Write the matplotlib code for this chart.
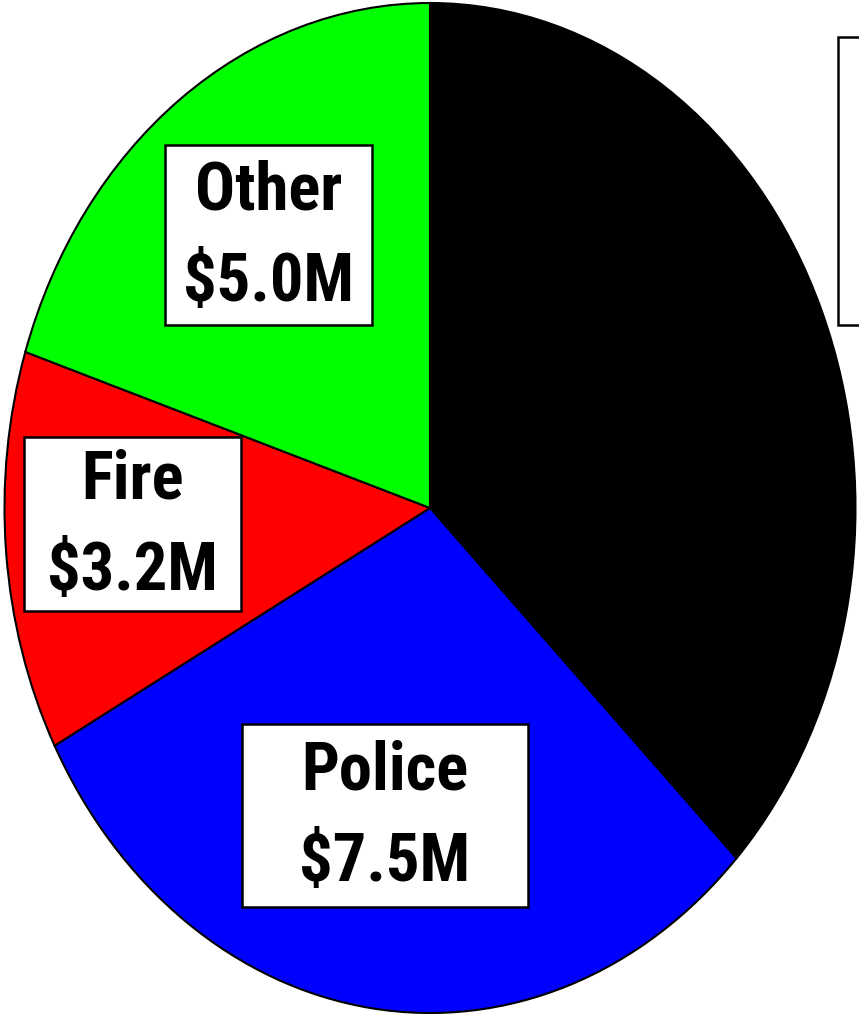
import matplotlib
matplotlib.use("Agg")
import matplotlib.pyplot as plt
from matplotlib.patches import Rectangle

# budget split, millions of dollars (clockwise from 12 o'clock)
names = ["General", "Police", "Fire", "Other"]
amounts = [9.3, 7.5, 3.2, 5.0]
colours = ["#000000", "#0000ff", "#ff0000", "#00ff00"]

# label boxes in pixels: left, top, right, bottom (first one runs off the page,
# its text is beyond the right edge so only the frame shows)
boxes = [(838, 37, 1000, 325), (242, 724, 528, 907), (24, 437, 241, 611), (165, 145, 372, 325)]

W, H = 859, 1014
cx, cy, rx, ry = 430.0, 508.0, 425.5, 505.0   # ellipse in pixels

def to_data(px, py):
    return (px - cx) / rx, (cy - py) / ry

plt.rcParams['font.family'] = ['Roboto Condensed', 'Liberation Sans Narrow',
                               'Liberation Sans', 'DejaVu Sans']

fig = plt.figure(figsize=(W / 100, H / 100), dpi=100)
ax = fig.add_axes([0, 0, 1, 1])

ax.pie(amounts, colors=colours, startangle=90, counterclock=False,
       wedgeprops=dict(edgecolor="black", linewidth=1.5))

# pie is drawn as an ellipse, so let the axes stretch it
ax.set_aspect("auto")
x0, y0 = to_data(0, H)
x1, y1 = to_data(W, 0)
ax.set_xlim(x0, x1)
ax.set_ylim(y0, y1)
ax.axis("off")

for i in range(len(names)):
    l, t, r, b = boxes[i]
    bl = to_data(l, b)
    tr = to_data(r, t)
    ax.add_patch(Rectangle(bl, tr[0] - bl[0], tr[1] - bl[1], facecolor="white",
                           edgecolor="black", linewidth=1.8, zorder=3, clip_on=False))
    if r > W:
        continue
    tx, ty = to_data((l + r) / 2, (t + b) / 2 + 2)
    ax.text(tx, ty, names[i] + "\n$" + "%.1fM" % amounts[i],
            ha="center", va="center", fontsize=48, fontweight="bold",
            linespacing=1.55, color="black", zorder=4)

fig.savefig("out.png", dpi=100)
